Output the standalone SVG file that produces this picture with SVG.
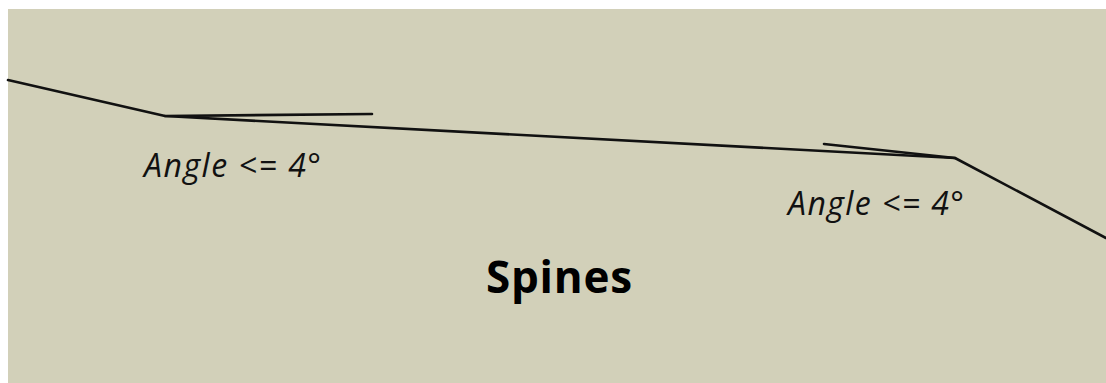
<svg xmlns="http://www.w3.org/2000/svg" width="1106" height="383" viewBox="0 0 1106 383">
<style>
.ln{stroke:#111;stroke-width:2.6;fill:none;stroke-linecap:round;stroke-linejoin:round}
.ang{font-family:"Open Sans","Noto Sans",sans-serif;font-style:italic;font-size:32px;fill:#111}
.ttl{font-family:"Open Sans","Noto Sans",sans-serif;font-weight:bold;font-size:44px;fill:#000}
</style>
<rect x="0" y="0" width="1106" height="383" fill="#ffffff"/>
<rect x="8" y="9" width="1098" height="374" fill="#d2d0b9"/>
<g id="connectors">
<polyline class="ln" points="8,80 165,116 955,158 1106,238"/>
<line class="ln" x1="165" y1="116" x2="372" y2="114"/>
<line class="ln" x1="824" y1="144" x2="955" y2="158"/>
</g>
<g id="label-left"><text class="ang" x="144" y="177" textLength="177" lengthAdjust="spacing">Angle &lt;= 4°</text></g>
<g id="label-right"><text class="ang" x="788" y="215" textLength="176" lengthAdjust="spacing">Angle &lt;= 4°</text></g>
<g id="title"><text class="ttl" x="486" y="293" textLength="146" lengthAdjust="spacing">Spines</text></g>
</svg>
